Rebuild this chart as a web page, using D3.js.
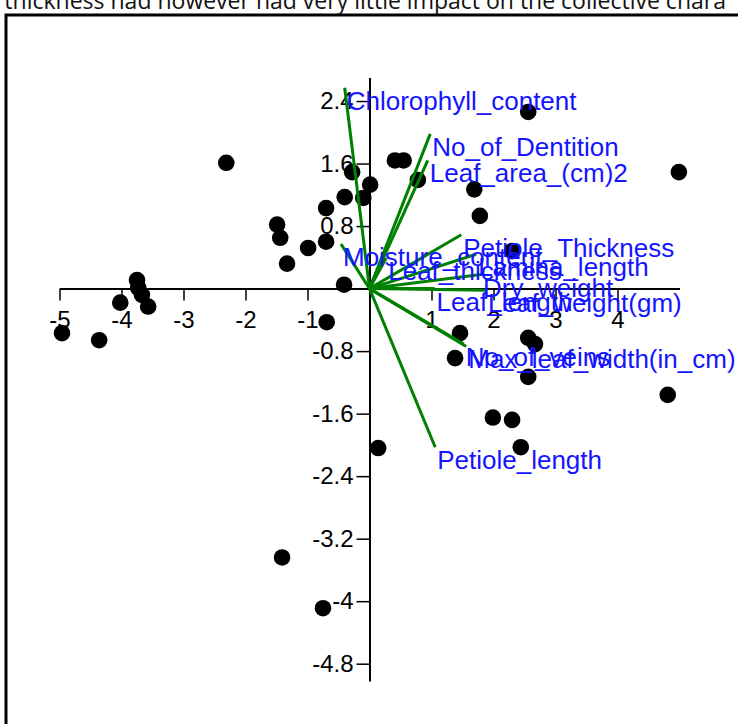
<!DOCTYPE html>
<html><head><meta charset="utf-8">
<script src="https://cdn.jsdelivr.net/npm/d3@7"></script>
<style>html,body{margin:0;padding:0;background:#fff;overflow:hidden}</style>
</head><body>
<svg id="c" width="738" height="724"></svg>
<script>
const caption = "r thickness had however had very little impact on the collective chara";

// PCA scores (objects)
const scoreX = [2.56, -2.31, 0.41, 0.55, -0.28, 0.78, 4.99, 0.01, -0.40, -0.10, -0.70, 1.69, 1.78,
  -1.49, -1.44, -0.99, -0.70, -1.33, -0.41, 2.30, -3.75, -3.73, -3.67, -3.57, -4.02, -4.96, -4.36,
  -0.69, 1.46, 1.38, 2.56, 2.67, 2.56, 4.81, 1.99, 2.30, 2.44, 0.14, -1.41, -0.75];
const scoreY = [2.26, 1.61, 1.64, 1.64, 1.49, 1.39, 1.49, 1.33, 1.17, 1.16, 1.03, 1.27, 0.93,
  0.82, 0.65, 0.52, 0.60, 0.32, 0.05, 0.48, 0.11, 0.01, -0.08, -0.23, -0.18, -0.57, -0.66,
  -0.43, -0.57, -0.89, -0.63, -0.71, -1.13, -1.36, -1.65, -1.68, -2.03, -2.04, -3.44, -4.09];

// Variable loadings (biplot vectors)
const variables = ["Chlorophyll_content", "No_of_Dentition", "Leaf_area_(cm)2", "Petiole_Thickness",
  "Moisture_content", "Leaf_thickness", "Lamina_length", "Dry_weight", "Leaf_length",
  "Leaf_weight(gm)", "No_of_veins", "Max_leaf_width(in_cm)", "Petiole_length"];
const loadX = [-0.40, 0.98, 0.94, 1.48, -0.46, 0.27, 1.72, 1.80, 1.05, 1.88, 1.52, 1.56, 1.06];
const loadY = [2.57, 1.98, 1.64, 0.69, 0.57, 0.39, 0.44, 0.18, 0.00, -0.02, -0.71, -0.74, -2.03];

const xTicks = [-5, -4, -3, -2, -1, 1, 2, 3, 4];
const yTicks = [2.4, 1.6, 0.8, -0.8, -1.6, -2.4, -3.2, -4, -4.8];

const svg = d3.select("#c");
const FONT = "'Liberation Sans', Arial, sans-serif";

const x = d3.scaleLinear().domain([-5, 5]).range([59.5, 679.5]);
const y = d3.scaleLinear().domain([2.7, -5.02]).range([77.6, 680.9]);

// frame
svg.append("rect").attr("x", 6).attr("y", 15).attr("width", 800).attr("height", 800)
  .attr("fill", "none").attr("stroke", "#000").attr("stroke-width", 3);

// clipped caption at the top
svg.append("text").attr("x", -11).attr("y", 9)
  .attr("font-family", "'Open Sans', 'Noto Sans', sans-serif").attr("font-size", 23)
  .attr("fill", "#111").text(caption);

// axes
const fmt = d => String(d);
const gx = svg.append("g").attr("transform", `translate(0,${y(0)})`)
  .call(d3.axisBottom(x).tickValues(xTicks).tickSizeInner(12).tickSizeOuter(0).tickPadding(10).tickFormat(fmt));
const gy = svg.append("g").attr("transform", `translate(${x(0)},0)`)
  .call(d3.axisLeft(y).tickValues(yTicks).tickSizeInner(13).tickSizeOuter(0).tickPadding(3).tickFormat(fmt));
[gx, gy].forEach(g => {
  g.attr("font-family", FONT).attr("font-size", 24);
  g.select(".domain").attr("stroke", "#000").attr("stroke-width", 2);
  g.selectAll(".tick line").attr("stroke", "#000").attr("stroke-width", 1.5);
  g.selectAll(".tick text").attr("fill", "#000");
});

// points
svg.append("g").selectAll("circle").data(scoreX).join("circle")
  .attr("cx", (d, i) => x(d)).attr("cy", (d, i) => y(scoreY[i]))
  .attr("r", 8.3).attr("fill", "#000");

// vectors
svg.append("g").selectAll("line").data(variables).join("line")
  .attr("x1", x(0)).attr("y1", y(0))
  .attr("x2", (d, i) => x(loadX[i])).attr("y2", (d, i) => y(loadY[i]))
  .attr("stroke", "#008000").attr("stroke-width", 3);

// labels
svg.append("g").selectAll("text").data(variables).join("text")
  .attr("x", (d, i) => x(loadX[i]) + 2).attr("y", (d, i) => y(loadY[i]) + 22)
  .attr("font-family", FONT).attr("font-size", 26).attr("fill", "#1414ff")
  .text(d => d);
</script>
</body></html>
